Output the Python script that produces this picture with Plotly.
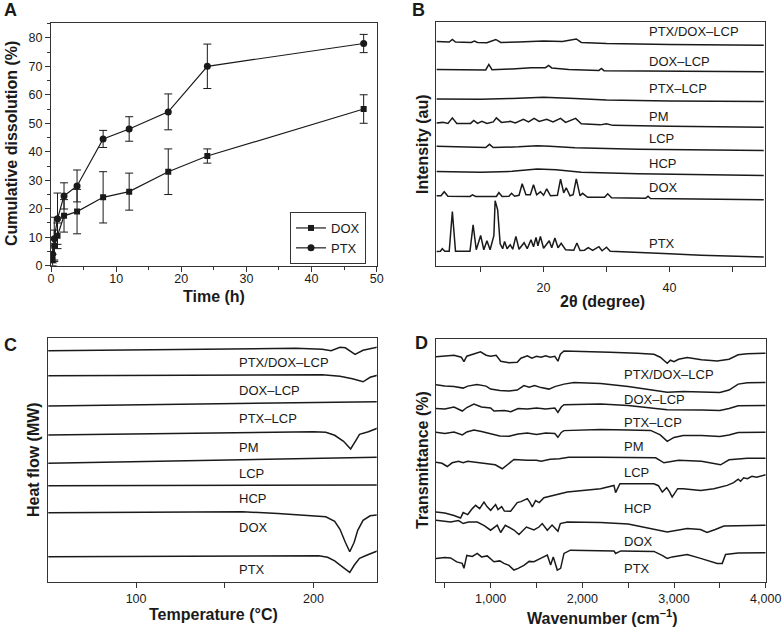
import plotly.graph_objects as go

# ---------------- Panel A: dissolution ----------------
time_h = [0.25, 0.5, 1, 2, 4, 8, 12, 18, 24, 48]
dox_release = [2, 7, 10.5, 17.5, 19, 24, 26, 33, 38.5, 55]
dox_err = [2, 5.5, 4.5, 5.7, 7.8, 9, 6.5, 8, 2.5, 5]
ptx_release = [4, 9.5, 16.5, 24.5, 28, 44.5, 48, 54, 70, 78]
ptx_err = [3, 7.5, 9, 4.6, 5.6, 3, 4.3, 6.3, 7.8, 3.2]

# ---------------- Panel B: XRD (2theta, intensity au) ----------------
xrd_ptx_dox_lcp = [(3, 224.5), (5, 224), (5.5, 226.5), (6, 224), (8.5, 223.5), (9, 225), (9.5, 223.5),
                   (11, 223.3), (12.4, 226.5), (13.2, 223.5), (16, 224), (20, 225), (23, 224.5),
                   (25.2, 227), (26, 223.5), (30, 222.5), (40, 221.5), (55, 220.7)]
xrd_dox_lcp = [(3, 196.5), (8, 196), (10.8, 196), (11.3, 201.5), (11.8, 196.2), (15, 197), (18, 198.3),
               (20.3, 198.3), (20.8, 200.5), (21.3, 198), (24, 196.5), (28.8, 195.5), (29.2, 197.5),
               (29.6, 195.3), (35, 195), (45, 194.5), (55, 194.3)]
xrd_ptx_lcp = [(3, 167), (10, 166.7), (15, 167.5), (20, 168.7), (25, 167.5), (30, 166), (40, 165), (55, 164.3)]
xrd_pm = [(3, 143), (4, 143.5), (4.8, 142.5), (5.5, 148), (6.2, 142.5), (8.4, 142.5), (8.9, 145.5),
          (9.5, 142.5), (10.2, 144.5), (11, 142.5), (12, 144), (12.5, 148), (13.3, 143.5), (14.7, 144.5),
          (15.5, 143), (16.8, 146.5), (17.6, 144), (18.5, 147.5), (19.3, 144.5), (20.5, 146.5),
          (21.5, 144), (22.7, 147.5), (23.5, 143.5), (25.1, 147.5), (26, 142), (29, 141), (30, 142),
          (31, 140.5), (40, 139.5), (55, 138.5)]
xrd_lcp = [(3, 119.5), (8, 118.5), (10.8, 118.3), (11.4, 121.5), (12, 118.3), (16, 119), (19, 120),
           (21, 119.5), (25, 118), (35, 116.5), (55, 115.3)]
xrd_hcp = [(3, 94.3), (10, 93.5), (15, 94.5), (19, 96.7), (22, 96), (26, 93.5), (35, 92), (55, 90.3)]
xrd_dox = [(3, 70), (3.7, 70), (4.2, 74), (4.8, 69.5), (8.3, 69.3), (8.7, 71), (9.2, 69.3), (12.5, 69.3),
           (12.9, 73.3), (13.4, 69.3), (14.5, 69.5), (14.9, 72.5), (15.4, 69.5), (16.1, 70.5), (16.6, 82),
           (17.2, 71), (17.9, 71), (18.4, 81), (18.9, 71), (19.5, 74), (20, 70.5), (20.5, 77), (21.1, 70),
           (22.2, 70.5), (22.7, 86.7), (23.2, 73), (23.6, 78), (24.2, 70), (24.7, 71), (25.2, 87),
           (25.8, 70), (26.2, 72.5), (27, 68.5), (29.7, 68.5), (30.2, 72), (30.8, 68), (36.2, 67.5),
           (36.6, 69.5), (37, 67.3), (45, 67), (55, 66)]
xrd_ptx = [(3, 14.3), (3.6, 14.5), (3.9, 17), (4.3, 14.5), (5, 14.5), (5.5, 54.3), (6, 14.5), (8.3, 14.5),
           (8.8, 41), (9.3, 16), (10, 30.3), (10.5, 16), (11, 25), (11.5, 16), (12.1, 30), (12.3, 65),
           (12.7, 56), (13.1, 22), (13.5, 17), (13.8, 24.3), (14.2, 17), (14.7, 21), (15.1, 16.5),
           (15.6, 29.3), (16.1, 16.5), (16.9, 23), (17.4, 17), (18, 26), (18.4, 19), (18.8, 28.3),
           (19.1, 20), (19.5, 29.3), (20, 17.5), (20.9, 25), (21.3, 18), (21.8, 27.7), (22.3, 18),
           (22.8, 22.5), (23.5, 16), (24.8, 15.5), (25.3, 22.7), (25.8, 15.3), (26.5, 15.5), (27.1, 18),
           (27.8, 15.3), (28.8, 19), (29.3, 15), (30, 18.5), (30.6, 14.5), (35, 13), (40, 12),
           (45, 10.5), (55, 8.7)]

# ---------------- Panel C: DSC (temperature, heat flow au) ----------------
dsc_ptx_dox_lcp = [(50, 231.5), (100, 232.5), (150, 233.5), (190, 234), (205, 233), (210, 231.5),
                   (215, 235), (218, 234.5), (223.5, 228), (228, 232), (236, 235)]
dsc_dox_lcp = [(50, 206.5), (150, 207.5), (205, 207.5), (215, 206), (222, 203.5), (228, 200.5),
               (232, 205), (236, 207)]
dsc_ptx_lcp = [(50, 176.3), (236, 180.5)]
dsc_pm = [(50, 147.3), (150, 149.5), (200, 150.5), (207, 150), (212, 147), (217, 141), (221, 133.3),
          (224, 142), (226, 148), (231, 150.5), (236, 154)]
dsc_lcp = [(50, 119), (236, 125)]
dsc_hcp = [(50, 96.5), (236, 97.3)]
dsc_dox = [(50, 69.6), (160, 70.6), (180, 68.8), (200, 66.5), (207, 65.5), (212, 61), (215, 53),
           (218, 40), (220.5, 30.5), (223, 40), (225, 52), (228, 62), (232, 66.5), (236, 67.3)]
dsc_ptx = [(50, 25.6), (150, 26.3), (203, 26.6), (208, 25), (212, 21.5), (216, 16), (220.5, 10),
           (223, 17), (226, 24), (230, 27), (236, 31.3)]

# ---------------- Panel D: FTIR (wavenumber, transmittance au) ----------------
ir_ptx_dox_lcp = [(404, 226.5), (500, 227), (600, 228), (680, 226), (709, 221.5), (740, 227), (800, 229),
                  (890, 231.5), (950, 228), (1000, 227), (1060, 228), (1110, 222), (1200, 220.5),
                  (1290, 221), (1330, 225), (1400, 227.5), (1450, 225), (1500, 227), (1550, 226),
                  (1600, 227.5), (1650, 226), (1700, 227), (1734, 222), (1760, 229), (1800, 232.3),
                  (2000, 232), (2300, 231), (2600, 230), (2781, 229), (2850, 226), (2900, 222),
                  (2926, 220), (2960, 223), (3000, 221.5), (3050, 224), (3144, 225.6), (3300, 223.5),
                  (3471, 222.3), (3600, 224), (3700, 228.5), (3800, 229.5), (4000, 230)]
ir_dox_lcp = [(404, 198.3), (500, 197), (600, 196.5), (700, 195), (750, 197), (850, 198.5), (950, 197),
              (1000, 194), (1100, 192.5), (1200, 192), (1290, 193), (1363, 197.5), (1420, 196),
              (1480, 197.5), (1550, 195.5), (1636, 194), (1700, 196.5), (1800, 199), (1908, 200.6),
              (2200, 199.5), (2500, 196.5), (2800, 193), (2926, 190.8), (3100, 191.5), (3300, 191),
              (3500, 190.5), (3600, 193), (3700, 199), (3800, 200.3), (4000, 200.6)]
ir_ptx_lcp = [(404, 174.5), (500, 174), (600, 176), (691, 172), (740, 175.5), (818, 179), (900, 176),
              (1000, 175), (1036, 172), (1150, 172.5), (1220, 171.3), (1300, 174.5), (1400, 174),
              (1500, 175), (1600, 174), (1700, 175), (1734, 170.6), (1770, 176), (1800, 178.3),
              (2200, 179), (2500, 177.5), (2800, 174.5), (2926, 173.3), (3300, 173), (3500, 172.5),
              (3600, 174.5), (3700, 177.3), (4000, 177.5)]
ir_pm = [(404, 150.6), (500, 149.5), (600, 151), (691, 148), (740, 151), (818, 153), (900, 151.5),
         (1000, 149.5), (1100, 147), (1200, 146.6), (1300, 149), (1400, 150), (1500, 148.5), (1600, 150),
         (1700, 149.5), (1734, 145.6), (1770, 150.5), (1800, 152.3), (2200, 153.5), (2500, 153),
         (2745, 152.5), (2850, 148), (2926, 141.5), (3000, 145.5), (3100, 147.5), (3300, 147.5),
         (3500, 146.5), (3600, 148), (3700, 150.5), (4000, 150.6)]
ir_lcp = [(404, 120.5), (470, 119.5), (527, 116.3), (580, 120), (650, 121.5), (700, 120), (750, 121.5),
          (850, 120.5), (950, 119.5), (1050, 118), (1127, 114), (1170, 117), (1254, 123.3), (1400, 122.5),
          (1500, 122.5), (1550, 121.5), (1650, 123.5), (1750, 124), (1850, 125.5), (2200, 125.6),
          (2600, 125.6), (2800, 125), (2890, 120), (2950, 121), (3050, 122.5), (3300, 121.5),
          (3508, 118), (3600, 123), (3800, 124.5), (4000, 124.6)]
ir_hcp = [(404, 70.6), (500, 69.5), (600, 67), (672, 64.6), (700, 70), (750, 68), (800, 74), (836, 77.3),
          (880, 74), (927, 80.6), (960, 76), (1000, 72.3), (1054, 78), (1080, 73), (1120, 76),
          (1150, 71.5), (1218, 71.3), (1290, 80), (1330, 81), (1400, 84), (1430, 80), (1454, 75.6),
          (1490, 82), (1530, 80), (1581, 85), (1690, 87.3), (1836, 90.6), (2199, 94), (2345, 97.3),
          (2363, 90), (2410, 99), (2781, 99), (2830, 97), (2872, 90.6), (2920, 95), (2950, 91),
          (2980, 85.6), (3040, 94), (3100, 94), (3290, 92.3), (3435, 94), (3580, 97.3), (3650, 100),
          (3700, 103.5), (3726, 101.5), (3760, 105), (3800, 104), (3850, 106.5), (3900, 105.5), (4000, 108)]
ir_dox = [(404, 62.3), (500, 61), (563, 60.5), (650, 62), (700, 59), (760, 60.5), (854, 60.5), (930, 57),
          (1000, 52.3), (1072, 57.3), (1109, 50), (1160, 57.3), (1254, 52.5), (1309, 48), (1390, 55.5),
          (1472, 52.5), (1527, 55.5), (1563, 59), (1618, 52.3), (1670, 57.5), (1734, 51.3), (1760, 59),
          (1836, 60.6), (2200, 60), (2500, 58.5), (2926, 50.6), (3144, 54), (3290, 53), (3360, 50),
          (3450, 53), (3544, 56.5), (4000, 57.3)]
ir_ptx = [(404, 24), (500, 25), (563, 24.5), (630, 20.5), (690, 19), (709, 14), (740, 27), (800, 26),
          (854, 29), (900, 25.5), (963, 26.5), (1036, 20.6), (1100, 21.5), (1145, 19), (1200, 17),
          (1254, 12.3), (1300, 14), (1363, 17), (1420, 21), (1472, 20.6), (1545, 24), (1618, 27.3),
          (1654, 17.3), (1683, 25.5), (1727, 12.3), (1763, 14), (1800, 29), (1870, 32.3), (2345, 31.5),
          (2363, 29), (2420, 31.5), (2781, 31), (2870, 27), (2926, 24), (2980, 25.5), (3144, 27.8),
          (3290, 24), (3400, 21), (3471, 19), (3526, 19), (3562, 28), (3700, 29.3), (4000, 29.6)]

sample_names = ["PTX/DOX–LCP", "DOX–LCP", "PTX–LCP", "PM", "LCP", "HCP", "DOX", "PTX"]
xrd_series = [xrd_ptx_dox_lcp, xrd_dox_lcp, xrd_ptx_lcp, xrd_pm, xrd_lcp, xrd_hcp, xrd_dox, xrd_ptx]
dsc_series = [dsc_ptx_dox_lcp, dsc_dox_lcp, dsc_ptx_lcp, dsc_pm, dsc_lcp, dsc_hcp, dsc_dox, dsc_ptx]
ir_series = [ir_ptx_dox_lcp, ir_dox_lcp, ir_ptx_lcp, ir_pm, ir_lcp, ir_hcp, ir_dox, ir_ptx]

# label anchor positions (x, y) in each panel's data space
xrd_label_pos = [(36.5, 234), (36.5, 204), (36.5, 177), (36.5, 149), (36.5, 127), (36.5, 102), (36.5, 78), (36.5, 22)]
dsc_label_pos = [(156.8, 219.6), (156.8, 192.3), (156.8, 164), (156.8, 134.6), (156.8, 109), (156.8, 84), (156.8, 55), (156.8, 13)]
ir_label_pos = [(2435, 208.3), (2435, 184), (2435, 160), (2435, 136.3), (2435, 110.6), (2435, 74.6), (2435, 41.3), (2435, 14)]

# ---------------- figure ----------------
W, H = 782, 631
FONT = "Liberation Sans, Arial, Helvetica, sans-serif"
INK = "#1a1a1a"


def fx(px):
    return px / W


def fy(py):
    return 1 - py / H


fig = go.Figure()

# Panel A traces
fig.add_trace(go.Scatter(
    x=time_h, y=dox_release, name="DOX", mode="lines+markers",
    line=dict(color=INK, width=1.2),
    marker=dict(symbol="square", size=6, color=INK),
    error_y=dict(type="data", array=dox_err, color=INK, thickness=1, width=4),
    xaxis="x", yaxis="y"))
fig.add_trace(go.Scatter(
    x=time_h, y=ptx_release, name="PTX", mode="lines+markers",
    line=dict(color=INK, width=1.2),
    marker=dict(symbol="circle", size=7, color=INK),
    error_y=dict(type="data", array=ptx_err, color=INK, thickness=1, width=4),
    xaxis="x", yaxis="y"))

# Spectral panels
for series, ax in [(xrd_series, "2"), (dsc_series, "3"), (ir_series, "4")]:
    for name, pts in zip(sample_names, series):
        fig.add_trace(go.Scatter(
            x=[p[0] for p in pts], y=[p[1] for p in pts], mode="lines",
            line=dict(color=INK, width=1.5), showlegend=False, name=name,
            xaxis="x" + ax, yaxis="y" + ax, hoverinfo="skip"))

annotations = []
for positions, ax in [(xrd_label_pos, "2"), (dsc_label_pos, "3"), (ir_label_pos, "4")]:
    for name, (lx, ly) in zip(sample_names, positions):
        annotations.append(dict(x=lx, y=ly, xref="x" + ax, yref="y" + ax, text=name,
                                showarrow=False, xanchor="left", yanchor="middle",
                                font=dict(family=FONT, size=13, color=INK)))

# Panel letters
for letter, px, py in [("A", 2, 10), ("B", 410, 10), ("C", 2, 345), ("D", 413, 343)]:
    annotations.append(dict(x=fx(px), y=fy(py), xref="paper", yref="paper", text="<b>%s</b>" % letter,
                            showarrow=False, xanchor="left", yanchor="middle",
                            font=dict(family=FONT, size=18, color=INK)))

# Axis titles
TITLE_FONT = dict(family=FONT, size=16, color=INK)
for text, px, py, rot in [
    ("<b>Time (h)</b>", 214, 297, 0),
    ("<b>Cumulative dissolution (%)</b>", 12, 144, -90),
    ("<b>2θ (degree)</b>", 602, 301, 0),
    ("<b>Intensity (au)</b>", 423, 144, -90),
    ("<b>Temperature (°C)</b>", 213, 614, 0),
    ("<b>Heat flow (MW)</b>", 33, 460, -90),
    ("<b>Wavenumber (cm<sup>–1</sup>)</b>", 602, 617, 0),
    ("<b>Transmittance (%)</b>", 422, 460, -90),
]:
    annotations.append(dict(x=fx(px), y=fy(py), xref="paper", yref="paper", text=text, textangle=rot,
                            showarrow=False, xanchor="center", yanchor="middle", font=TITLE_FONT))

TICK_FONT = dict(family=FONT, size=12.5, color=INK)
frame = dict(showline=True, linecolor="#333333", linewidth=1, mirror=True, showgrid=False,
             zeroline=False, tickfont=TICK_FONT, ticks="outside", tickcolor="#333333",
             automargin=False)

fig.update_layout(
    width=W, height=H, margin=dict(l=0, r=0, t=0, b=0, pad=0, autoexpand=False),
    paper_bgcolor="white", plot_bgcolor="white",
    font=dict(family=FONT, color=INK),
    showlegend=True,
    legend=dict(x=fx(290), y=fy(212), xanchor="left", yanchor="top", bordercolor="#333333",
                borderwidth=1, bgcolor="white", font=dict(family=FONT, size=13, color=INK),
                itemwidth=30, tracegroupgap=0),
    annotations=annotations,
    xaxis=dict(frame, domain=[fx(51), fx(376.7)], anchor="y", range=[0, 50], dtick=10, ticklen=5,
               ticklabelstandoff=-4,
               minor=dict(ticks="outside", dtick=5, ticklen=3, tickcolor="#333333")),
    yaxis=dict(frame, domain=[fy(265.7), fy(23)], anchor="x", range=[0, 85.2], dtick=10, ticklen=5,
               minor=dict(ticks="outside", dtick=5, ticklen=3, tickcolor="#333333")),
    xaxis2=dict(frame, domain=[fx(436), fx(765)], anchor="y2", range=[2.9, 55.2],
                tickvals=[10, 20, 30, 40, 50], ticktext=["", "20", "", "40", ""], ticklen=5,
                ticklabelstandoff=5),
    yaxis2=dict(frame, domain=[fy(265.7), fy(22)], anchor="x2", range=[0, 244], ticks="",
                showticklabels=False),
    xaxis3=dict(frame, domain=[fx(48.3), fx(376.7)], anchor="y3", range=[50.5, 235.7],
                tickvals=[50, 100, 150, 200], ticktext=["", "100", "", "200"], ticklen=5,
                ticklabelstandoff=0),
    yaxis3=dict(frame, domain=[fy(582.3), fy(338.3)], anchor="x3", range=[0, 244], ticks="",
                showticklabels=False),
    xaxis4=dict(frame, domain=[fx(436), fx(765.7)], anchor="y4", range=[404, 4000],
                tickvals=[500, 1000, 1500, 2000, 2500, 3000, 3500, 4000],
                ticktext=["", "1,000", "", "2,000", "", "3,000", "", "4,000"], ticklen=5,
                ticklabelstandoff=0),
    yaxis4=dict(frame, domain=[fy(582.3), fy(339.3)], anchor="x4", range=[0, 244], ticks="",
                showticklabels=False),
)

fig.write_html("out.html", config={"displayModeBar": False},
               post_script="document.body.style.margin='0px';document.body.style.overflow='hidden';")
